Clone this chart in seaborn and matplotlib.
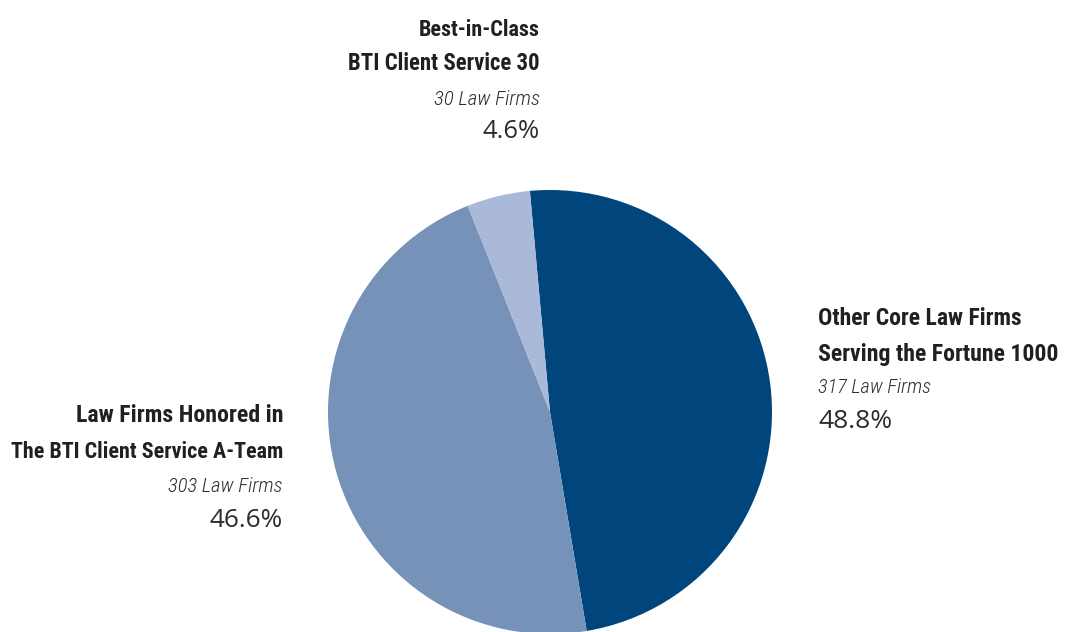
import matplotlib
matplotlib.use("Agg")
import matplotlib.pyplot as plt
from matplotlib import font_manager
import seaborn as sns

sns.set_theme(style="white")

# slice data, clockwise from the top
groups = ["Other Core Law Firms\nServing the Fortune 1000",
          "Law Firms Honored in\nThe BTI Client Service A-Team",
          "Best-in-Class\nBTI Client Service 30"]
firms = [317, 303, 30]
shares = [48.8, 46.6, 4.6]
colors = ["#00457c", "#7692b9", "#aab9d7"]

W, H = 1066, 632
fig = plt.figure(figsize=(W / 100, H / 100), dpi=100)
ax = fig.add_axes([0, 0, 1, 1])

# pie centre / radius in pixel units (y measured up from bottom)
cx, cy, r = 550, H - 412, 222
ax.pie(shares, colors=colors, startangle=95.2, counterclock=False,
       center=(cx, cy), radius=r, wedgeprops=dict(linewidth=0))
ax.set_xlim(0, W)
ax.set_ylim(0, H)
ax.set_aspect("equal")
ax.axis("off")

installed = {f.name for f in font_manager.fontManager.ttflist}


def pick(prefs):
    return [f for f in prefs if f in installed] + ["DejaVu Sans"]


bold_font = pick(["Roboto Condensed", "Liberation Sans Narrow", "Roboto"])
ital_font = pick(["Roboto Condensed", "Liberation Sans Narrow", "Roboto"])
pct_font = pick(["Open Sans", "Lato"])
dark = "#231f20"

# label anchors: x, alignment, baselines of title lines, count, percent
anchors = [
    (818, "left", (325, 361), 393, 428),
    (283, "right", (422, 458), 492, 527),
    (540, "right", (36, 70), 105, 138),
]
# widths of each line in the reference (px): title1, title2, count, percent
widths = [(204, 240, 113, 74), (207, 271, 115, 73), (121, 192, 106, 57)]

texts = []
for name, n, pct, (x, ha, tb, yb, pb), wd in zip(groups, firms, shares,
                                                  anchors, widths):
    for line, y, w in zip(name.split("\n"), tb, wd[:2]):
        t = ax.text(x, H - y, line, ha=ha, va="baseline", fontsize=18,
                    fontweight="bold", color=dark, family=bold_font)
        texts.append((t, w))
    t = ax.text(x, H - yb, f"{n} Law Firms", ha=ha, va="baseline",
                fontsize=15, fontstyle="italic", fontweight="light",
                color="#2e2e30", family=ital_font)
    texts.append((t, wd[2]))
    t = ax.text(x, H - pb, f"{pct}%", ha=ha, va="baseline", fontsize=17,
                color="#2b2b2b", family=pct_font)
    texts.append((t, wd[3]))

# fit each line's size to the width it has in the reference
fig.canvas.draw()
rend = fig.canvas.get_renderer()
for t, w in texts:
    cur = t.get_window_extent(rend).width
    t.set_fontsize(t.get_fontsize() * w / cur)

fig.savefig("out.png", dpi=100)
